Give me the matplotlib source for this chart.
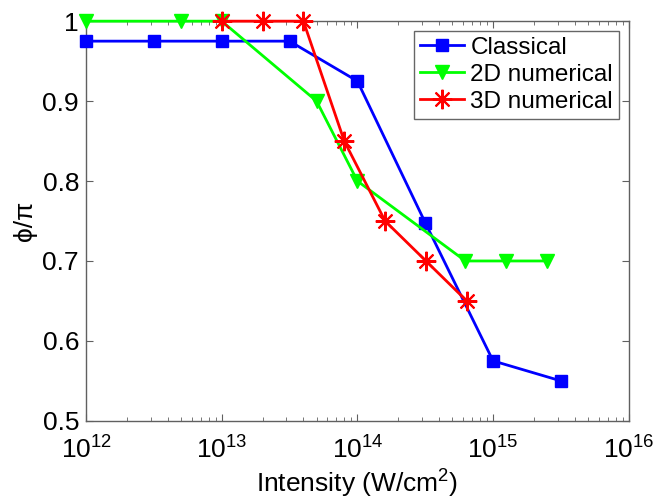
# phase vs intensity, three models
import numpy as np
import matplotlib
matplotlib.use('Agg')
import matplotlib.pyplot as plt
from matplotlib.ticker import FixedLocator, FixedFormatter, LogLocator

plt.rcParams['font.family'] = ['Liberation Sans', 'DejaVu Sans']
plt.rcParams['mathtext.fontset'] = 'custom'
plt.rcParams['mathtext.rm'] = 'Liberation Sans'
plt.rcParams['mathtext.it'] = 'Liberation Sans:italic'

# data
I_classical = [1e12, 3.16e12, 1e13, 3.16e13, 1e14, 3.16e14, 1e15, 3.16e15]
phi_classical = [0.975, 0.975, 0.975, 0.975, 0.925, 0.748, 0.575, 0.55]

I_2d = [1e12, 5e12, 1e13, 5e13, 1e14, 6.25e14, 1.25e15, 2.5e15]
phi_2d = [1.0, 1.0, 1.0, 0.9, 0.8, 0.7, 0.7, 0.7]

I_3d = [1e13, 2e13, 4e13, 8e13, 1.6e14, 3.2e14, 6.4e14]
phi_3d = [1.0, 1.0, 1.0, 0.85, 0.75, 0.70, 0.65]

y_ticks = [0.5, 0.6, 0.7, 0.8, 0.9, 1.0]
y_labels = ['0.5', '0.6', '0.7', '0.8', '0.9', '1']

fig = plt.figure(figsize=(6.57, 5.04), dpi=100)
ax = fig.add_axes([0.131, 0.165, 0.826, 0.793])

ax.plot(I_classical, phi_classical, '-s', color='#0000ff', lw=2, ms=9,
        label='Classical', clip_on=False, zorder=3)
ax.plot(I_2d, phi_2d, '-v', color='#00ff00', lw=2, ms=10,
        label='2D numerical', clip_on=False, zorder=3)
ax.plot(I_3d, phi_3d, '-', marker=(8, 2, 0), color='#ff0000', lw=2, ms=14,
        mew=1.5, label='3D numerical', clip_on=False, zorder=4)

ax.set_xscale('log')
ax.set_xlim(1e12, 1e16)
ax.set_ylim(0.5, 1.0)
ax.xaxis.set_major_locator(LogLocator(base=10, numticks=10))
ax.xaxis.set_minor_locator(LogLocator(base=10, subs=np.arange(2, 10), numticks=20))
ax.yaxis.set_major_locator(FixedLocator(y_ticks))
ax.yaxis.set_major_formatter(FixedFormatter(y_labels))

for s in ax.spines.values():
    s.set_color('#606060')
    s.set_linewidth(1)
ax.tick_params(which='both', direction='in', top=True, right=True, colors='#606060',
               labelcolor='black', labelsize=19)
ax.tick_params(which='major', length=5)
ax.tick_params(which='minor', length=3)
ax.tick_params(axis='x', pad=11)
ax.tick_params(axis='y', pad=5)

ax.set_xlabel('Intensity (W/cm$^2$)', fontsize=19, labelpad=3)
ax.set_ylabel('ϕ/π', fontsize=19, labelpad=4)

leg = ax.legend(loc='upper right', fontsize=17.5, frameon=True, fancybox=False,
                borderaxespad=0.4, handlelength=1.8, handletextpad=0.25,
                labelspacing=0.2, borderpad=0.25)
leg.get_frame().set_edgecolor('#404040')
leg.get_frame().set_linewidth(1)

fig.savefig('out.png', dpi=100)
